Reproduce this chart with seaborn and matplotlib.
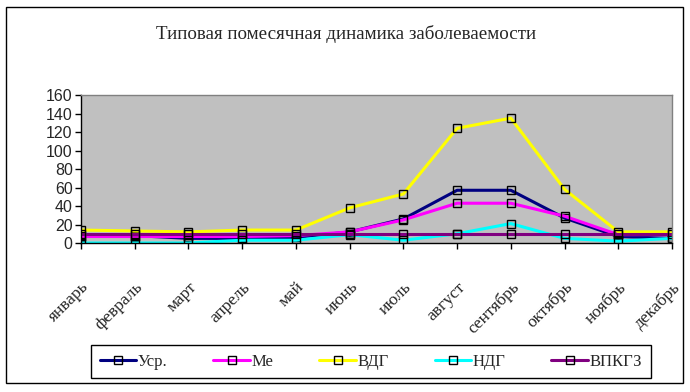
import matplotlib
matplotlib.use("Agg")
import matplotlib.pyplot as plt
import matplotlib.transforms as mtransforms
import numpy as np
import seaborn as sns
from matplotlib.patches import Rectangle

months = ["январь", "февраль", "март", "апрель", "май", "июнь",
          "июль", "август", "сентябрь", "октябрь", "ноябрь", "декабрь"]
usr = [8, 8, 5, 5, 6, 12, 26, 57, 57, 27, 7, 5]
me = [7, 7, 7, 7, 8, 12, 25, 43, 43, 29, 9, 9]
vdg = [14, 13, 12, 14, 14, 38, 53, 124, 135, 58, 12, 12]
ndg = [0, 0, 0, 3, 3, 9, 3, 10, 21, 5, 2, 5]
vpkgz = [10, 10, 10, 10, 10, 10, 10, 10, 10, 10, 10, 10]

series_names = ["Уср.", "Ме", "ВДГ", "НДГ", "ВПКГЗ"]
series_vals = [usr, me, vdg, ndg, vpkgz]
colors = ["#000080", "#FF00FF", "#FFFF00", "#00FFFF", "#800080"]

sns.set_style("white")
plt.rcParams["font.family"] = ["Liberation Serif", "DejaVu Serif"]

fig = plt.figure(figsize=(6.9, 3.92), dpi=100)
ax = fig.add_axes([81 / 690, 1 - 243 / 392, (672 - 81) / 690, (243 - 95) / 392])
ax.set_facecolor("#C0C0C0")

x = np.arange(len(months))
for name, vals, c in zip(series_names, series_vals, colors):
    sns.lineplot(x=x, y=vals, ax=ax, color=c, label=name, lw=2.2,
                 marker="s", markersize=5.5, markerfacecolor="none",
                 markeredgecolor="black", markeredgewidth=1.0)

ax.set_xlim(0, 11)
ax.set_ylim(0, 160)
ax.set_yticks(range(0, 161, 20))
ax.set_xticks(x)
ax.set_xticklabels(months, rotation=45, ha="right", rotation_mode="anchor",
                   fontsize=12.5)
shift = mtransforms.ScaledTranslation(-6 / 100, 0, fig.dpi_scale_trans)
for lab in ax.get_xticklabels():
    lab.set_transform(lab.get_transform() + shift)
for lab in ax.get_yticklabels():
    lab.set_fontfamily("Liberation Sans")
    lab.set_fontsize(11.5)
ax.tick_params(axis="x", direction="out", length=4, width=1, color="black",
               pad=22, bottom=True)
ax.tick_params(axis="y", direction="out", length=4, width=1, color="black",
               pad=2, left=True)
ax.set_xlabel("")
ax.set_ylabel("")
ax.grid(False)
for side in ["top", "right"]:
    ax.spines[side].set_color("#808080")
for side in ["left", "bottom"]:
    ax.spines[side].set_color("black")
for s in ax.spines.values():
    s.set_linewidth(1)

ax.get_legend().remove()
handles, labels = ax.get_legend_handles_labels()
fig.legend(handles, labels, ncol=5, loc="center", mode="expand",
           bbox_to_anchor=(83 / 690, 1 - 378 / 392, (659 - 83) / 690, 33 / 392),
           frameon=True, fancybox=False, edgecolor="black", fontsize=12,
           handlelength=2.2, handletextpad=0.1, borderpad=0.5,
           framealpha=1)

fig.text(0.5 * (156 + 537) / 690, 1 - 34 / 392,
         "Типовая помесячная динамика заболеваемости",
         ha="center", va="center", fontsize=13.7)

fig.patches.append(Rectangle((6 / 690, 1 - 383 / 392), 677 / 690, 376 / 392,
                             transform=fig.transFigure, fill=False,
                             edgecolor="black", lw=1))

fig.savefig("out.png", dpi=100)
